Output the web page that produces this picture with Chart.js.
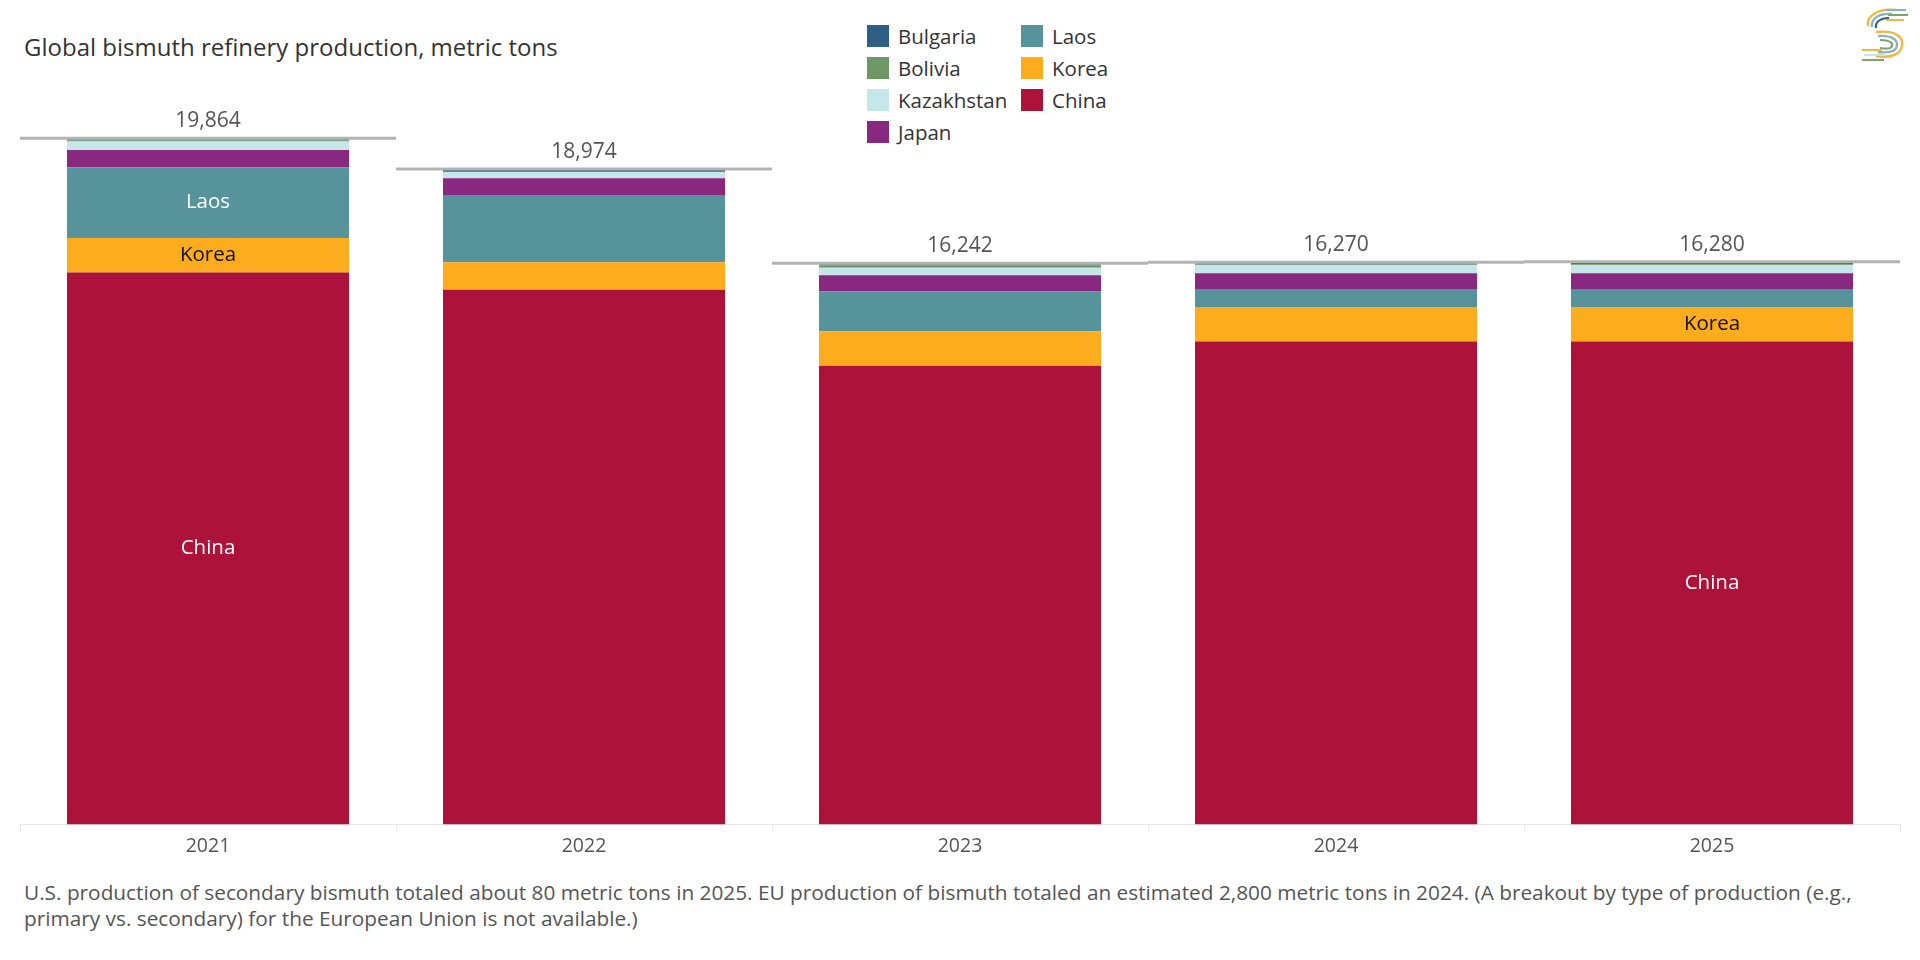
<!DOCTYPE html>
<html>
<head>
<meta charset="utf-8">
<script src="https://cdn.jsdelivr.net/npm/chart.js@4/dist/chart.umd.min.js"></script>
<style>
  html, body { margin: 0; padding: 0; background: #fff; }
  body { width: 1920px; height: 960px; position: relative; overflow: hidden; font-family: "Open Sans", "Noto Sans", sans-serif; }
  #title { position: absolute; left: 24px; top: 30px; font-size: 24px; color: #333; white-space: nowrap; }
  #chartBox { position: absolute; left: 0; top: 0; width: 1920px; height: 866px; }
  #legend { position: absolute; left: 867px; top: 25px; display: grid; grid-auto-flow: column; grid-template-rows: repeat(4, 32px); grid-template-columns: 154px auto; }
  .li { display: flex; align-items: flex-start; height: 32px; }
  .sw { width: 22px; height: 22px; margin-right: 9px; flex: none; }
  .lt { font-size: 20.5px; color: #333; line-height: 22px; white-space: nowrap; }
  #note { position: absolute; left: 24px; top: 879px; font-size: 20.8px; line-height: 26px; color: #555; white-space: nowrap; }
  #logo { position: absolute; left: 1856px; top: 4px; }
</style>
</head>
<body>
<div id="title">Global bismuth refinery production, metric tons</div>
<div id="legend"></div>
<svg id="logo" width="56" height="60" viewBox="0 0 56 60">
  <path d="M40 6 C 22 4, 10 12, 12 22" stroke="#f4b63f" stroke-width="2.4" fill="none"/>
  <path d="M36 10 C 22 9, 15 15, 16 23" stroke="#8ab3bf" stroke-width="2.4" fill="none"/>
  <path d="M33 14 C 24 14, 19 18, 20 24" stroke="#2f5f85" stroke-width="2.2" fill="none"/>
  <path d="M20 28 C 38 26, 48 32, 46 42 C 44 52, 32 54, 20 52" stroke="#f4b63f" stroke-width="2.4" fill="none"/>
  <path d="M22 32 C 36 31, 42 36, 41 42 C 40 48, 32 49, 22 48" stroke="#8ab3bf" stroke-width="2.4" fill="none"/>
  <path d="M24 36 C 34 36, 37 39, 36 42 C 35 45, 30 45, 24 44" stroke="#7fa36f" stroke-width="2.2" fill="none"/>
  <line x1="30" y1="6" x2="50" y2="6" stroke="#8ab3bf" stroke-width="2"/>
  <line x1="32" y1="11" x2="52" y2="11" stroke="#7fa36f" stroke-width="2"/>
  <line x1="30" y1="16" x2="48" y2="16" stroke="#f4b63f" stroke-width="2"/>
  <line x1="6" y1="46" x2="26" y2="46" stroke="#f4b63f" stroke-width="2"/>
  <line x1="8" y1="51" x2="30" y2="51" stroke="#c5e6e8" stroke-width="2"/>
  <line x1="6" y1="56" x2="28" y2="56" stroke="#7fa36f" stroke-width="2"/>
</svg>
<div id="chartBox"><canvas id="c" width="1920" height="866"></canvas></div>
<div id="note">U.S. production of secondary bismuth totaled about 80 metric tons in 2025. EU production of bismuth totaled an estimated 2,800 metric tons in 2024. (A breakout by type of production (e.g.,<br>primary vs. secondary) for the European Union is not available.)</div>
<script>
// ---- Data (metric tons) ----
const years = ['2021', '2022', '2023', '2024', '2025'];
const china = [16000, 15500, 13300, 14000, 14000];
const korea = [1000, 800, 1000, 1000, 1000];
const laos = [2050, 1950, 1150, 500, 500];
const japan = [500, 480, 470, 480, 480];
const kazakhstan = [250, 180, 220, 230, 240];
const bolivia = [24, 14, 62, 20, 20];
const bulgaria = [40, 50, 40, 40, 40];
const totals = [19864, 18974, 16242, 16270, 16280];
const totalLabels = ['19,864', '18,974', '16,242', '16,270', '16,280'];

// Labels written inside segments: [series, year, text colour]
const inBarLabels = [
  ['Laos', '2021', '#ffffff'],
  ['Korea', '2021', '#111111'],
  ['China', '2021', '#ffffff'],
  ['Korea', '2025', '#111111'],
  ['China', '2025', '#ffffff']
];

const series = [
  { label: 'China', data: china, color: '#ad123a' },
  { label: 'Korea', data: korea, color: '#fcac1c' },
  { label: 'Laos', data: laos, color: '#57939b' },
  { label: 'Japan', data: japan, color: '#89287f' },
  { label: 'Kazakhstan', data: kazakhstan, color: '#c6e7e9' },
  { label: 'Bolivia', data: bolivia, color: '#6f9664' },
  { label: 'Bulgaria', data: bulgaria, color: '#2f5f85' }
];

// HTML legend (reverse order, column-major)
const legendEl = document.getElementById('legend');
series.slice().reverse().forEach(s => {
  const d = document.createElement('div');
  d.className = 'li';
  d.innerHTML = '<span class="sw" style="background:' + s.color + '"></span><span class="lt">' + s.label + '</span>';
  legendEl.appendChild(d);
});

const FONT = '"Open Sans", "Noto Sans", sans-serif';

const overlayPlugin = {
  id: 'overlay',
  afterDatasetsDraw(chart) {
    const ctx = chart.ctx;
    const x = chart.scales.x, y = chart.scales.y;
    const catW = x.width / years.length;
    ctx.save();
    ctx.textAlign = 'center';
    ctx.textBaseline = 'middle';
    // in-bar labels
    ctx.font = '20.5px ' + FONT;
    inBarLabels.forEach(([name, yr, col]) => {
      const di = chart.data.datasets.findIndex(d => d.label === name);
      const idx = years.indexOf(yr);
      const el = chart.getDatasetMeta(di).data[idx];
      ctx.fillStyle = col;
      ctx.fillText(name, el.x, (el.y + el.base) / 2);
    });
    // total lines and labels
    totals.forEach((t, i) => {
      const cx = x.getPixelForValue(i);
      const py = y.getPixelForValue(t);
      ctx.strokeStyle = '#b3b3b3';
      ctx.lineWidth = 3;
      ctx.beginPath();
      ctx.moveTo(cx - catW / 2, py - 1);
      ctx.lineTo(cx + catW / 2, py - 1);
      ctx.stroke();
      ctx.fillStyle = '#555';
      ctx.font = '21px ' + FONT;
      ctx.fillText(totalLabels[i], cx, py - 18);
    });
    ctx.restore();
  }
};

new Chart(document.getElementById('c'), {
  type: 'bar',
  data: {
    labels: years,
    datasets: series.map(s => ({
      label: s.label,
      data: s.data,
      backgroundColor: s.color,
      borderWidth: 0,
      categoryPercentage: 1.0,
      barPercentage: 0.75
    }))
  },
  options: {
    responsive: false,
    animation: false,
    devicePixelRatio: 1,
    layout: { padding: { top: 100, left: 20, right: 20, bottom: 5 } },
    plugins: { legend: { display: false }, tooltip: { enabled: false }, title: { display: false } },
    scales: {
      x: {
        stacked: true,
        grid: { display: true, drawOnChartArea: false, drawTicks: true, tickLength: 7, color: '#e8e8e8', offset: true },
        border: { display: true, color: '#e8e8e8', width: 1 },
        ticks: { color: '#555', font: { family: FONT, size: 19.5 }, padding: 3 }
      },
      y: {
        stacked: true,
        display: false,
        min: 0,
        max: 21000
      }
    }
  },
  plugins: [overlayPlugin]
});
</script>
</body>
</html>
